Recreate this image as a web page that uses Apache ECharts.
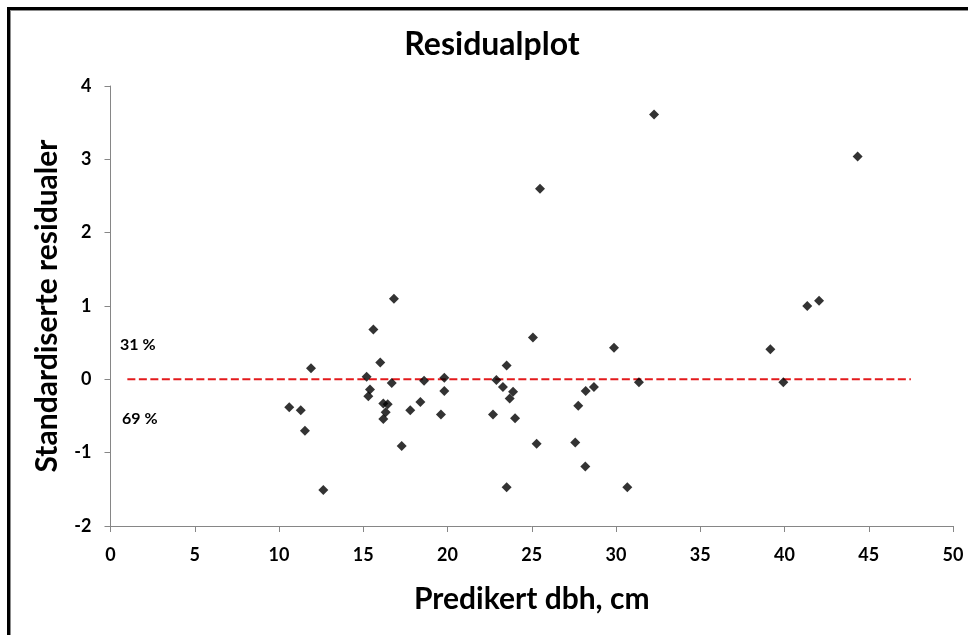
<!DOCTYPE html>
<html>
<head>
<meta charset="utf-8">
<script src="https://cdn.jsdelivr.net/npm/echarts@6/dist/echarts.min.js"></script>
<style>
html,body{margin:0;padding:0;background:#fff;}
#chart{width:968px;height:635px;}
</style>
</head>
<body>
<div id="chart"></div>
<script>
// Data
var predictedDbh = [10.61, 11.29, 11.54, 11.90, 12.63, 15.20, 15.40, 15.30, 15.60, 16.01,
  16.19, 16.45, 16.33, 16.19, 16.69, 16.82, 17.28, 17.79, 18.39, 18.61,
  19.61, 19.81, 19.81, 22.70, 22.90, 23.29, 23.51, 23.51, 23.69, 23.89,
  24.01, 25.07, 25.29, 25.49, 27.58, 27.76, 28.18, 28.20, 28.69, 29.88,
  30.67, 31.36, 32.26, 39.16, 39.93, 41.35, 42.05, 44.34];
var stdResiduals = [-0.38, -0.42, -0.70, 0.15, -1.51, 0.035, -0.14, -0.23, 0.68, 0.23,
  -0.33, -0.34, -0.45, -0.54, -0.05, 1.10, -0.91, -0.42, -0.31, -0.02,
  -0.48, -0.16, 0.02, -0.48, -0.01, -0.105, 0.19, -1.47, -0.26, -0.17,
  -0.53, 0.57, -0.88, 2.60, -0.86, -0.36, -1.19, -0.16, -0.105, 0.43,
  -1.47, -0.04, 3.61, 0.41, -0.04, 1.00, 1.07, 3.04];
var zeroLineX = [1, 47.5];
var zeroLineY = [0, 0];
var shareLabels = ['31 %', '69 %'];
var titleText = 'Residualplot';
var xName = 'Predikert dbh, cm';
var yName = 'Standardiserte residualer';

var points = predictedDbh.map(function (x, i) { return [x, stdResiduals[i]]; });
var zeroLine = zeroLineX.map(function (x, i) { return [x, zeroLineY[i]]; });

var FONT = 'Lato, "DejaVu Sans", sans-serif';
var chart = echarts.init(document.getElementById('chart'), null, {renderer: 'canvas'});

chart.setOption({
  backgroundColor: '#ffffff',
  animation: false,
  title: {
    text: titleText,
    left: 487, top: 24, textAlign: 'center',
    textStyle: {fontFamily: FONT, fontWeight: 'bold', fontSize: 32, color: '#000'}
  },
  grid: {left: 110.5, right: 15, top: 86, bottom: 109, containLabel: false},
  xAxis: {
    type: 'value', min: 0, max: 50, interval: 5,
    name: xName, nameLocation: 'middle', nameGap: 58,
    nameTextStyle: {fontFamily: FONT, fontWeight: 'bold', fontSize: 30, color: '#000'},
    axisLine: {onZero: false, lineStyle: {color: '#868686', width: 1}},
    axisTick: {show: true, inside: false, length: 6, lineStyle: {color: '#868686'}},
    axisLabel: {fontFamily: FONT, fontWeight: 'bold', fontSize: 18, color: '#000', margin: 20},
    splitLine: {show: false}
  },
  yAxis: {
    type: 'value', min: -2, max: 4, interval: 1,
    name: yName, nameLocation: 'middle', nameGap: 48, nameRotate: 90,
    nameTextStyle: {fontFamily: FONT, fontWeight: 'bold', fontSize: 30, color: '#000'},
    axisLine: {onZero: false, lineStyle: {color: '#868686', width: 1}},
    axisTick: {show: true, inside: false, length: 6, lineStyle: {color: '#868686'}},
    axisLabel: {fontFamily: FONT, fontWeight: 'bold', fontSize: 18, color: '#000', margin: 19},
    splitLine: {show: false}
  },
  series: [
    {
      type: 'line', data: zeroLine, symbol: 'none', silent: true,
      lineStyle: {color: '#e31a1c', width: 2, type: [8, 3.5]},
      z: 1
    },
    {
      type: 'scatter', data: points, symbol: 'diamond', symbolSize: 10,
      itemStyle: {color: '#000000'}, z: 3
    }
  ],
  graphic: [
    {type: 'rect', shape: {x: 7, y: 7, width: 3, height: 640}, style: {fill: '#000'}},
    {type: 'rect', shape: {x: 7, y: 7, width: 970, height: 3}, style: {fill: '#000'}},
    {type: 'rect', shape: {x: 10, y: 10, width: 1, height: 640}, style: {fill: '#8c8c8c'}},
    {type: 'rect', shape: {x: 10, y: 10, width: 970, height: 1}, style: {fill: '#8c8c8c'}},
    {type: 'text', left: 120, top: 337, style: {text: shareLabels[0], fontFamily: FONT, fontWeight: 'bold', fontSize: 16, fill: '#000'}},
    {type: 'text', left: 122, top: 411, style: {text: shareLabels[1], fontFamily: FONT, fontWeight: 'bold', fontSize: 16, fill: '#000'}}
  ]
});
</script>
</body>
</html>
